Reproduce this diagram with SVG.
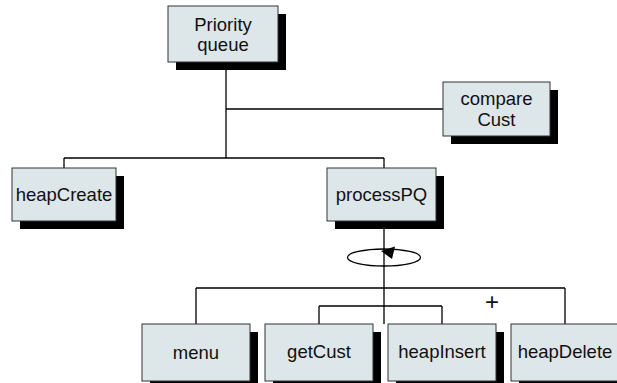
<svg xmlns="http://www.w3.org/2000/svg" width="617" height="383" viewBox="0 0 617 383">
<style>
.shadow{fill:#000}
.box{fill:#dde6e8;stroke:#333;stroke-width:1}
.lbl{font-family:"Liberation Sans",Arial,sans-serif;font-size:18.5px;fill:#111;text-anchor:middle}
.ln{stroke:#000;stroke-width:1.3;fill:none}
</style>
<rect width="617" height="383" fill="#fff"/>
<g id="connectors">
<path class="ln" d="M226,62 V158 M226,109 H443 M64,158 H384 M64,158 V168 M384,158 V168 M384,221 V324 M196,288 H565 M196,288 V324 M565,288 V324 M319,306 H442 M319,306 V324 M442,306 V324"/>
<ellipse class="ln" cx="384" cy="257.5" rx="36.5" ry="8.5"/>
<polygon points="381,251 395,246.5 392,259" fill="#000"/>
<text class="lbl" x="492" y="310" style="font-size:24px">+</text>
</g>
<g id="priority-queue">
<rect class="shadow" x="176" y="14" width="110" height="56"/>
<rect class="box" x="168" y="6" width="110" height="56"/>
<text class="lbl" x="223" y="31">Priority</text>
<text class="lbl" x="223" y="51">queue</text>
</g>
<g id="compareCust">
<rect class="shadow" x="451" y="90" width="107" height="54"/>
<rect class="box" x="443" y="82" width="107" height="54"/>
<text class="lbl" x="496.5" y="105">compare</text>
<text class="lbl" x="496.5" y="126">Cust</text>
</g>
<g id="heapCreate">
<rect class="shadow" x="20" y="176" width="104" height="53"/>
<rect class="box" x="12" y="168" width="104" height="53"/>
<text class="lbl" x="64" y="201">heapCreate</text>
</g>
<g id="processPQ">
<rect class="shadow" x="335" y="176" width="109" height="53"/>
<rect class="box" x="327" y="168" width="109" height="53"/>
<text class="lbl" x="381.5" y="201">processPQ</text>
</g>
<g id="menu">
<rect class="shadow" x="150" y="332" width="108" height="57"/>
<rect class="box" x="142" y="324" width="108" height="57"/>
<text class="lbl" x="196" y="359">menu</text>
</g>
<g id="getCust">
<rect class="shadow" x="273" y="332" width="108" height="57"/>
<rect class="box" x="265" y="324" width="108" height="57"/>
<text class="lbl" x="319" y="358">getCust</text>
</g>
<g id="heapInsert">
<rect class="shadow" x="396" y="332" width="108" height="57"/>
<rect class="box" x="388" y="324" width="108" height="57"/>
<text class="lbl" x="442" y="358">heapInsert</text>
</g>
<g id="heapDelete">
<rect class="shadow" x="519" y="332" width="108" height="57"/>
<rect class="box" x="511" y="324" width="108" height="57"/>
<text class="lbl" x="565" y="358">heapDelete</text>
</g>
</svg>
